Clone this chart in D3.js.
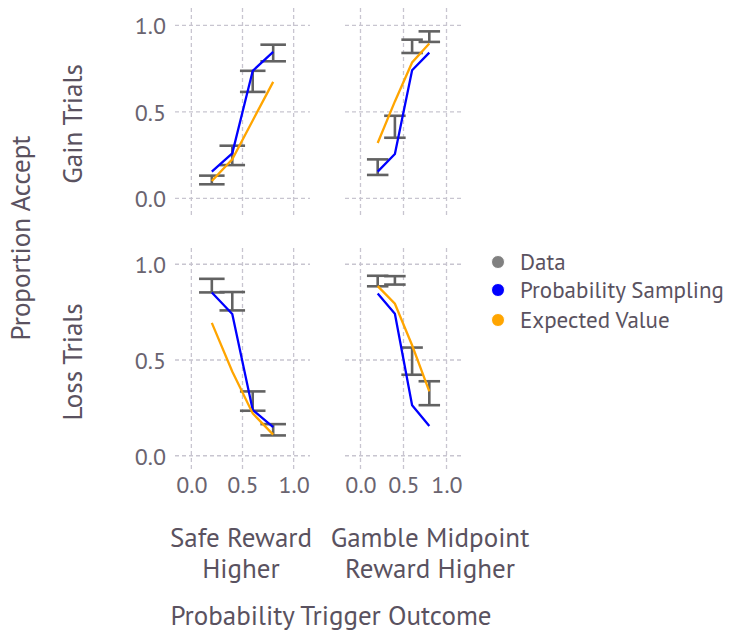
<!DOCTYPE html>
<html>
<head>
<meta charset="utf-8">
<script src="https://cdn.jsdelivr.net/npm/d3@7"></script>
<style>
  html, body { margin: 0; padding: 0; background: #ffffff; }
  svg { display: block; }
</style>
</head>
<body>
<svg id="chart" width="731" height="635"></svg>
<script>
// ---------------- data ----------------
const probabilities = [0.2, 0.4, 0.6, 0.8];
const rowLabels = ["Gain Trials", "Loss Trials"];
const colLabels = [["Safe Reward", "Higher"], ["Gamble Midpoint", "Reward Higher"]];
const tickValues = [0.0, 0.5, 1.0];
const tickLabels = ["0.0", "0.5", "1.0"];
const legendLabels = ["Data", "Probability Sampling", "Expected Value"];

// Gain trials, safe reward higher
const gainSafeLow  = [0.081, 0.192, 0.615, 0.792];
const gainSafeHigh = [0.131, 0.304, 0.737, 0.888];
const gainSafePS   = [0.154, 0.260, 0.737, 0.846];
const gainSafeEV   = [0.100, 0.225, 0.450, 0.673];
// Gain trials, gamble midpoint reward higher
const gainGambleLow  = [0.135, 0.350, 0.840, 0.904];
const gainGambleHigh = [0.225, 0.477, 0.917, 0.965];
const gainGamblePS   = [0.154, 0.256, 0.740, 0.842];
const gainGambleEV   = [0.320, 0.560, 0.785, 0.895];
// Loss trials, safe reward higher
const lossSafeLow  = [0.853, 0.759, 0.235, 0.106];
const lossSafeHigh = [0.924, 0.855, 0.336, 0.165];
const lossSafePS   = [0.853, 0.740, 0.239, 0.150];
const lossSafeEV   = [0.694, 0.440, 0.221, 0.110];
// Loss trials, gamble midpoint reward higher
const lossGambleLow  = [0.885, 0.894, 0.423, 0.264];
const lossGambleHigh = [0.940, 0.938, 0.565, 0.389];
const lossGamblePS   = [0.847, 0.741, 0.264, 0.155];
const lossGambleEV   = [0.886, 0.794, 0.577, 0.336];

const panelData = [
  {row: 0, col: 0, low: gainSafeLow,  high: gainSafeHigh,  ps: gainSafePS,  ev: gainSafeEV},
  {row: 0, col: 1, low: gainGambleLow, high: gainGambleHigh, ps: gainGamblePS, ev: gainGambleEV},
  {row: 1, col: 0, low: lossSafeLow,  high: lossSafeHigh,  ps: lossSafePS,  ev: lossSafeEV},
  {row: 1, col: 1, low: lossGambleLow, high: lossGambleHigh, ps: lossGamblePS, ev: lossGambleEV}
];

// ---------------- layout / style ----------------
const FONT = "'PT Sans', 'Noto Sans', 'Open Sans', sans-serif";
const textColor = "#5a5260";
const tickColor = "#6a6470";
const gridColor = "#c8c5d0";
const errColor = "#626262";
const colors = ["#808080", "#0000ff", "#ffa500"];
const errHalfWidth = 0.125;
const titleSize = 27, tickSize = 24, legendSize = 23;

const colLayout = [
  {x0: 175, x1: 310, domain: [-0.16, 1.16]},
  {x0: 345, x1: 462, domain: [-0.18, 1.18]}
];
const rowLayout = [
  {y0: 8, y1: 215.6, domain: [-0.1, 1.1]},
  {y0: 248, y1: 472, domain: [-0.085, 1.085]}
];

const svg = d3.select("#chart");

panelData.forEach(p => {
  const cl = colLayout[p.col], rl = rowLayout[p.row];
  const x = d3.scaleLinear().domain(cl.domain).range([cl.x0, cl.x1]);
  const y = d3.scaleLinear().domain(rl.domain).range([rl.y1, rl.y0]);
  const g = svg.append("g");

  // gridlines
  g.selectAll("line.vgrid").data(tickValues).join("line")
    .attr("x1", d => x(d)).attr("x2", d => x(d))
    .attr("y1", rl.y0).attr("y2", rl.y1)
    .attr("stroke", gridColor).attr("stroke-width", 1.3)
    .attr("stroke-dasharray", "4,3");
  g.selectAll("line.hgrid").data(tickValues).join("line")
    .attr("x1", cl.x0).attr("x2", cl.x1)
    .attr("y1", d => y(d)).attr("y2", d => y(d))
    .attr("stroke", gridColor).attr("stroke-width", 1.3)
    .attr("stroke-dasharray", "4,3");

  // y axis labels (left column)
  if (p.col === 0) {
    const ax = d3.axisLeft(y).tickValues(tickValues).tickSize(0).tickPadding(0)
      .tickFormat((d, i) => tickLabels[i]);
    const axg = g.append("g").attr("transform", `translate(${cl.x0 - 9},0)`).call(ax);
    axg.select(".domain").remove();
    axg.selectAll("text").attr("font-family", FONT).attr("font-size", tickSize)
      .attr("fill", tickColor).attr("dy", "0.35em");
  }
  // x axis labels (bottom row)
  if (p.row === 1) {
    const ax = d3.axisBottom(x).tickValues(tickValues).tickSize(0).tickPadding(0)
      .tickFormat((d, i) => tickLabels[i]);
    const axg = g.append("g").attr("transform", `translate(0,${rl.y1 + 3})`).call(ax);
    axg.select(".domain").remove();
    axg.selectAll("text").attr("font-family", FONT).attr("font-size", tickSize)
      .attr("fill", tickColor).attr("dy", "0.75em");
  }

  // error bars
  const eb = g.selectAll("g.eb").data(probabilities.map((v, i) => ({x: v, lo: p.low[i], hi: p.high[i]})))
    .join("g");
  eb.append("line")
    .attr("x1", d => x(d.x)).attr("x2", d => x(d.x))
    .attr("y1", d => y(d.lo)).attr("y2", d => y(d.hi))
    .attr("stroke", errColor).attr("stroke-width", 2.6);
  eb.append("line")
    .attr("x1", d => x(d.x - errHalfWidth)).attr("x2", d => x(d.x + errHalfWidth))
    .attr("y1", d => y(d.lo)).attr("y2", d => y(d.lo))
    .attr("stroke", errColor).attr("stroke-width", 2.6);
  eb.append("line")
    .attr("x1", d => x(d.x - errHalfWidth)).attr("x2", d => x(d.x + errHalfWidth))
    .attr("y1", d => y(d.hi)).attr("y2", d => y(d.hi))
    .attr("stroke", errColor).attr("stroke-width", 2.6);

  // model lines
  const line = d3.line().x((d, i) => x(probabilities[i])).y(d => y(d));
  g.append("path").datum(p.ps).attr("d", line)
    .attr("fill", "none").attr("stroke", colors[1]).attr("stroke-width", 2.3);
  g.append("path").datum(p.ev).attr("d", line)
    .attr("fill", "none").attr("stroke", colors[2]).attr("stroke-width", 2.3);
});

// row labels
const rowCenters = [124, 362];
rowLabels.forEach((t, i) => {
  svg.append("text").attr("transform", `translate(82,${rowCenters[i]}) rotate(-90)`)
    .attr("text-anchor", "middle").attr("font-family", FONT).attr("font-size", titleSize)
    .attr("fill", textColor).text(t);
});
// y title
svg.append("text").attr("transform", `translate(30,238) rotate(-90)`)
  .attr("text-anchor", "middle").attr("font-family", FONT).attr("font-size", titleSize)
  .attr("fill", textColor).text("Proportion Accept");

// column labels at bottom
const colCenters = [241, 430];
colLabels.forEach((lines, i) => {
  lines.forEach((t, j) => {
    svg.append("text").attr("x", colCenters[i]).attr("y", 547 + j * 31)
      .attr("text-anchor", "middle").attr("font-family", FONT).attr("font-size", titleSize)
      .attr("fill", textColor).text(t);
  });
});
// x title
svg.append("text").attr("x", 331).attr("y", 625)
  .attr("text-anchor", "middle").attr("font-family", FONT).attr("font-size", titleSize)
  .attr("fill", textColor).text("Probability Trigger Outcome");

// legend
const legY = [262, 290, 320];
legendLabels.forEach((t, i) => {
  svg.append("circle").attr("cx", 498).attr("cy", legY[i]).attr("r", 6.5)
    .attr("fill", colors[i]).attr("stroke", "#ffffff").attr("stroke-width", 1);
  svg.append("text").attr("x", 520).attr("y", legY[i]).attr("dy", "0.35em")
    .attr("font-family", FONT).attr("font-size", legendSize).attr("fill", textColor).text(t);
});
</script>
</body>
</html>
